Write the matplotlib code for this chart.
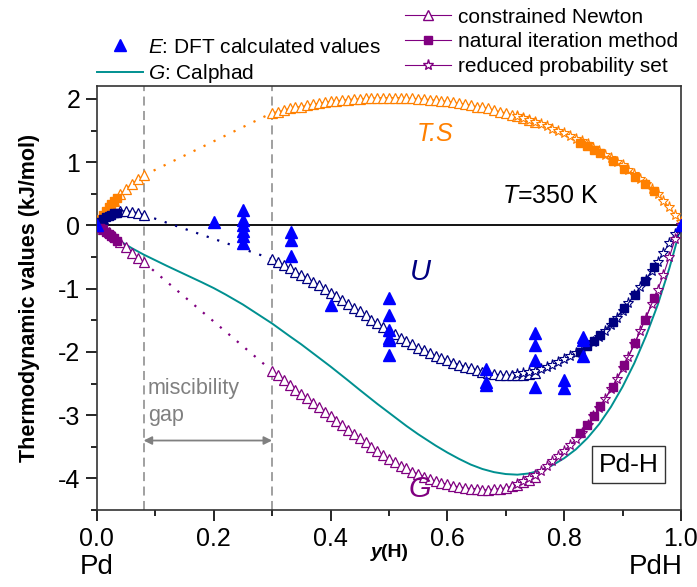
import numpy as np
import matplotlib
matplotlib.use('Agg')
import matplotlib.pyplot as plt
from matplotlib.lines import Line2D
from matplotlib.ticker import MultipleLocator

plt.rcParams['font.family'] = ['Liberation Sans', 'DejaVu Sans']
plt.rcParams['mathtext.fontset'] = 'custom'
plt.rcParams['mathtext.rm'] = 'Liberation Sans'
plt.rcParams['mathtext.it'] = 'Liberation Sans:italic'
plt.rcParams['mathtext.bf'] = 'Liberation Sans:bold'
plt.rcParams['axes.unicode_minus'] = False

# constrained Newton, single phase region near Pd
x_cn_a = [0.0, 0.01, 0.02, 0.03, 0.04, 0.05, 0.06, 0.07, 0.08]
ts_cn_a = [0.0, 0.16, 0.29, 0.39, 0.49, 0.58, 0.66, 0.73, 0.79]
u_cn_a = [0.0, 0.10, 0.18, 0.22, 0.23, 0.23, 0.22, 0.20, 0.17]
g_cn_a = [0.0, -0.06, -0.11, -0.17, -0.26, -0.34, -0.43, -0.52, -0.58]

# constrained Newton, after the miscibility gap
x_cn_b = np.round(np.arange(0.30, 0.7501, 0.01), 2)
ts_cn_b = [1.78, 1.80, 1.82, 1.85, 1.87, 1.88, 1.90, 1.92, 1.93, 1.95,
           1.96, 1.97, 1.98, 1.99, 2.00, 2.00, 2.01, 2.01, 2.02, 2.02,
           2.02, 2.02, 2.02, 2.01, 2.01, 2.00, 2.00, 1.99, 1.98, 1.97,
           1.96, 1.95, 1.93, 1.92, 1.90, 1.88, 1.87, 1.85, 1.82, 1.80,
           1.78, 1.75, 1.73, 1.70, 1.67, 1.64]
u_cn_b = [-0.53, -0.58, -0.63, -0.68, -0.73, -0.78, -0.83, -0.89, -0.94, -1.00,
          -1.06, -1.12, -1.18, -1.24, -1.30, -1.36, -1.42, -1.49, -1.55, -1.61,
          -1.67, -1.72, -1.78, -1.83, -1.88, -1.93, -1.97, -2.02, -2.06, -2.10,
          -2.13, -2.17, -2.20, -2.23, -2.26, -2.28, -2.31, -2.33, -2.35, -2.36,
          -2.37, -2.37, -2.37, -2.36, -2.35, -2.33]
g_cn_b = [-2.30, -2.37, -2.45, -2.53, -2.60, -2.66, -2.73, -2.81, -2.87, -2.95,
          -3.02, -3.09, -3.16, -3.23, -3.30, -3.36, -3.43, -3.50, -3.57, -3.63,
          -3.69, -3.74, -3.80, -3.84, -3.89, -3.93, -3.97, -4.01, -4.04, -4.07,
          -4.09, -4.12, -4.13, -4.15, -4.16, -4.16, -4.18, -4.18, -4.17, -4.16,
          -4.15, -4.12, -4.10, -4.06, -4.02, -3.97]

# natural iteration method
x_ni_a = [0.005, 0.01, 0.015, 0.02, 0.025, 0.03, 0.035]
ts_ni_a = [0.09, 0.16, 0.23, 0.29, 0.34, 0.39, 0.44]
u_ni_a = [0.05, 0.10, 0.13, 0.15, 0.17, 0.19, 0.20]
g_ni_a = [-0.04, -0.06, -0.10, -0.14, -0.17, -0.20, -0.24]
x_ni_b = [0.827, 0.839, 0.851, 0.862, 0.883, 0.903, 0.921, 0.938, 0.954]
ts_ni_b = [1.31, 1.26, 1.19, 1.14, 1.02, 0.90, 0.77, 0.65, 0.54]
u_ni_b = [-2.00, -1.91, -1.82, -1.73, -1.52, -1.31, -1.10, -0.88, -0.66]
g_ni_b = [-3.28, -3.15, -3.01, -2.86, -2.55, -2.20, -1.86, -1.50, -1.15]

# reduced probability set
x_rp_a = [0.0, 0.004, 0.008]
ts_rp_a = [0.0, 0.08, 0.13]
u_rp_a = [0.0, 0.04, 0.08]
g_rp_a = [0.0, -0.03, -0.05]
x_rp_b = np.round(np.arange(0.72, 1.0001, 0.01), 2)
ts_rp_b = [1.73, 1.70, 1.67, 1.64, 1.60, 1.57, 1.53, 1.50, 1.46, 1.42,
           1.37, 1.33, 1.28, 1.23, 1.18, 1.12, 1.07, 1.01, 0.95, 0.88,
           0.81, 0.74, 0.66, 0.58, 0.49, 0.39, 0.29, 0.16, 0.06]
u_rp_b = [-2.35, -2.34, -2.32, -2.30, -2.27, -2.24, -2.20, -2.16, -2.11, -2.07,
          -2.02, -1.97, -1.91, -1.84, -1.76, -1.67, -1.57, -1.46, -1.35, -1.23,
          -1.10, -0.98, -0.86, -0.72, -0.58, -0.43, -0.28, -0.14, 0.0]
g_rp_b = [-4.08, -4.04, -3.99, -3.94, -3.88, -3.81, -3.73, -3.65, -3.56, -3.47,
          -3.38, -3.28, -3.15, -3.02, -2.89, -2.74, -2.59, -2.43, -2.26, -2.08,
          -1.88, -1.67, -1.46, -1.24, -1.02, -0.78, -0.50, -0.22, 0.0]

# Calphad Gibbs energy
x_cal = [0.0, 0.01, 0.02, 0.04, 0.06, 0.08, 0.10, 0.12, 0.15, 0.18, 0.20,
         0.22, 0.25, 0.28, 0.30, 0.33, 0.35, 0.38, 0.40, 0.43, 0.45, 0.48,
         0.50, 0.53, 0.55, 0.58, 0.60, 0.62, 0.64, 0.66, 0.68, 0.70, 0.72,
         0.74, 0.76, 0.78, 0.80, 0.82, 0.84, 0.86, 0.88, 0.90, 0.92, 0.94,
         0.96, 0.98, 0.99, 1.0]
g_cal = [0.0, -0.07, -0.13, -0.25, -0.36, -0.46, -0.55, -0.64, -0.77, -0.90,
         -0.99, -1.09, -1.25, -1.43, -1.55, -1.75, -1.88, -2.09, -2.23, -2.45,
         -2.60, -2.82, -2.96, -3.17, -3.30, -3.48, -3.59, -3.69, -3.78, -3.85,
         -3.90, -3.93, -3.94, -3.92, -3.87, -3.79, -3.68, -3.54, -3.36, -3.14,
         -2.87, -2.55, -2.18, -1.75, -1.26, -0.68, -0.35, 0.0]

# DFT calculated energies
x_dft = [0.0, 0.2, 0.25, 0.25, 0.25, 0.25, 0.25, 0.25, 0.333, 0.333, 0.333,
         0.4, 0.5, 0.5, 0.5, 0.5, 0.5, 0.5, 0.667, 0.667, 0.667,
         0.75, 0.75, 0.75, 0.75, 0.8, 0.8, 0.833, 0.833, 0.833, 1.0]
e_dft = [0.0, 0.05, 0.25, 0.08, 0.0, -0.09, -0.17, -0.28, -0.10, -0.23, -0.49,
         -1.25, -1.15, -1.42, -1.65, -1.78, -1.81, -2.05, -2.27, -2.48, -2.53,
         -1.70, -1.89, -2.13, -2.55, -2.44, -2.57, -1.76, -1.81, -2.07, 0.0]

c_ts = '#ff8000'
c_u = '#000080'
c_g = '#800080'
c_dft = '#0000ff'
c_cal = '#009090'

fig = plt.figure(figsize=(6.97, 5.87), dpi=100)
ax = fig.add_axes([0.139, 0.131, 0.838, 0.722])

ax.axhline(0, color='black', lw=1.3, zorder=1)
for xv in [0.08, 0.30]:
    ax.axvline(xv, color='#999999', lw=1.3, ls=(0, (5, 3)), zorder=1)

ax.plot(x_cal, g_cal, color=c_cal, lw=1.4, zorder=2)

series = [(c_ts, ts_cn_a, ts_cn_b, ts_ni_a, ts_ni_b, ts_rp_a, ts_rp_b),
          (c_u, u_cn_a, u_cn_b, u_ni_a, u_ni_b, u_rp_a, u_rp_b),
          (c_g, g_cn_a, g_cn_b, g_ni_a, g_ni_b, g_rp_a, g_rp_b)]
for col, cna, cnb, nia, nib, rpa, rpb in series:
    for xs, ys in [(x_cn_a, cna), (x_cn_b, cnb)]:
        ax.plot(xs, ys, color=col, lw=0.8, marker='^', ms=6.5, mfc='white',
                mec=col, mew=0.9, zorder=3)
    ax.plot([x_cn_a[-1], x_cn_b[0]], [cna[-1], cnb[0]], color=col, lw=1.6,
            ls=(0, (1, 4)), zorder=2)
    for xs, ys in [(x_rp_a, rpa), (x_rp_b, rpb)]:
        ax.plot(xs, ys, color=col, lw=0.8, marker='*', ms=8, mfc='white',
                mec=col, mew=0.8, zorder=3)
    for xs, ys in [(x_ni_a, nia), (x_ni_b, nib)]:
        ax.plot(xs, ys, color=col, lw=0.8, marker='s', ms=5.5, mfc=col,
                mec=col, zorder=4)

ax.plot(x_dft, e_dft, ls='none', marker='^', ms=9, color=c_dft, zorder=5)

ax.set_xlim(0, 1)
ax.set_ylim(-4.5, 2.2)
ax.xaxis.set_major_locator(MultipleLocator(0.2))
ax.xaxis.set_minor_locator(MultipleLocator(0.1))
ax.yaxis.set_major_locator(MultipleLocator(1))
ax.yaxis.set_minor_locator(MultipleLocator(0.5))
ax.xaxis.set_major_formatter(plt.FuncFormatter(lambda v, p: '%.1f' % v))
ax.tick_params(which='major', direction='out', length=8, width=1.2,
               labelsize=18, pad=4)
ax.tick_params(which='minor', direction='out', length=4.5, width=1.2)
for sp in ax.spines.values():
    sp.set_linewidth(1.2)
    sp.set_color('#333333')

ax.set_ylabel('Thermodynamic values (kJ/mol)', fontsize=15.5,
              fontweight='bold', labelpad=13)
ax.text(0.487, -0.101, 'y', transform=ax.transAxes, ha='right', va='center',
        fontsize=14, fontweight='bold', fontstyle='italic')
ax.text(0.487, -0.101, '(H)', transform=ax.transAxes, ha='left', va='center',
        fontsize=14, fontweight='bold')
ax.text(0.0, -0.135, 'Pd', transform=ax.transAxes, ha='center', va='center',
        fontsize=20)
ax.text(1.003, -0.135, 'PdH', transform=ax.transAxes, ha='right',
        va='center', fontsize=20)

ax.text(0.579, 1.45, 'T.S', color=c_ts, fontsize=18, fontstyle='italic',
        ha='center', va='center')
ax.text(0.693, 0.47, r'$T$=350 K', fontsize=18, ha='left', va='center')
ax.text(0.553, -0.74, 'U', color=c_u, fontsize=21, fontstyle='italic',
        ha='center', va='center')
ax.text(0.553, -4.17, 'G', color=c_g, fontsize=21, fontstyle='italic',
        ha='center', va='center')
ax.text(0.91, -3.78, 'Pd-H', fontsize=19, ha='center', va='center',
        bbox=dict(boxstyle='square,pad=0.25', fc='white', ec='#333333', lw=1))
ax.text(0.087, -2.57, 'miscibility', color='#808080', fontsize=15.5,
        ha='left', va='center')
ax.text(0.087, -3.01, 'gap', color='#808080', fontsize=15.5,
        ha='left', va='center')
ax.annotate('', xy=(0.08, -3.4), xytext=(0.30, -3.4),
            arrowprops=dict(arrowstyle='<|-|>', color='#808080', lw=1.3,
                            shrinkA=0, shrinkB=0, mutation_scale=12))

h_dft = Line2D([], [], ls='none', marker='^', ms=9, color=c_dft)
h_cal = Line2D([], [], color=c_cal, lw=1.4)
leg1 = ax.legend([h_dft, h_cal], [r'$E$: DFT calculated values', r'$G$: Calphad'],
                 loc='upper left', bbox_to_anchor=(0.139, 0.936),
                 bbox_transform=fig.transFigure, frameon=False, fontsize=15,
                 handlelength=2.2, handletextpad=0.25, borderpad=0,
                 borderaxespad=0, labelspacing=0.28, numpoints=1)
ax.add_artist(leg1)

h_cn = Line2D([], [], color=c_g, lw=0.8, marker='^', ms=6.5, mfc='white', mec=c_g)
h_ni = Line2D([], [], color=c_g, lw=0.8, marker='s', ms=5.5, mfc=c_g, mec=c_g)
h_rp = Line2D([], [], color=c_g, lw=0.8, marker='*', ms=8, mfc='white', mec=c_g)
ax.legend([h_cn, h_ni, h_rp],
          ['constrained Newton', 'natural iteration method', 'reduced probability set'],
          loc='upper left', bbox_to_anchor=(0.581, 0.987),
          bbox_transform=fig.transFigure, frameon=False, fontsize=15,
          handlelength=2.2, handletextpad=0.35, borderpad=0,
          borderaxespad=0, labelspacing=0.28, numpoints=1)

fig.savefig('out.png', dpi=100)
